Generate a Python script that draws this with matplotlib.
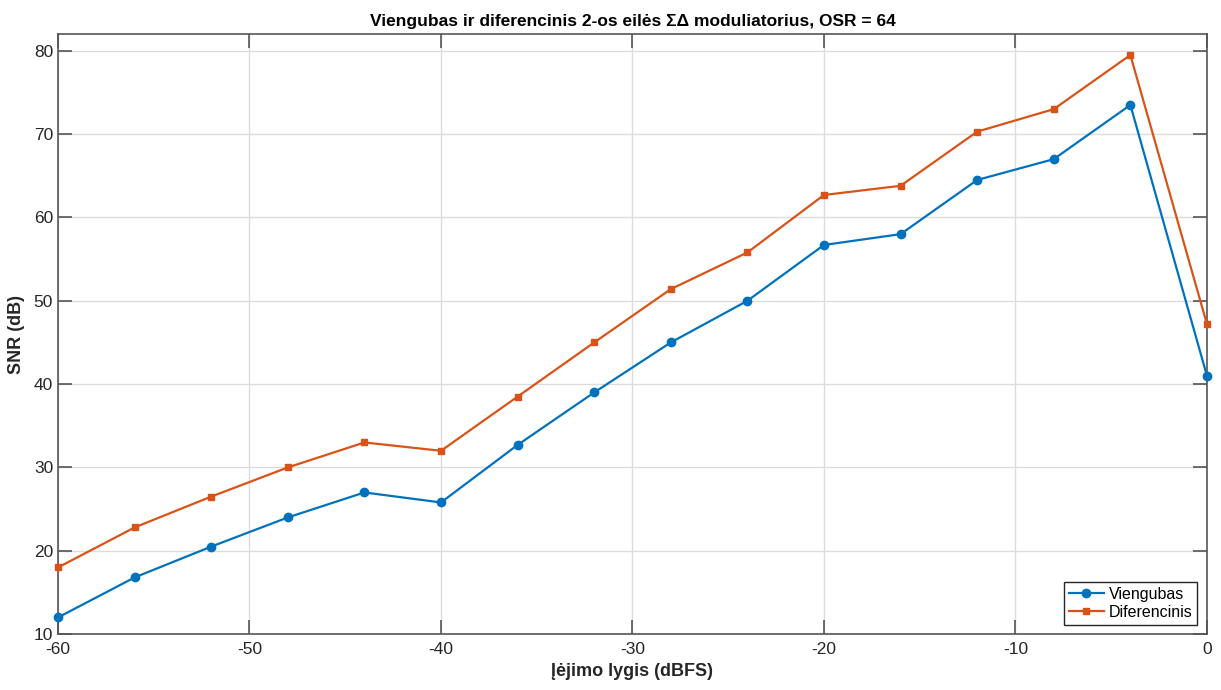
import matplotlib
matplotlib.use('Agg')
import matplotlib.pyplot as plt

plt.rcParams['font.family'] = ['Liberation Sans', 'DejaVu Sans']
plt.rcParams['axes.unicode_minus'] = False

x_dbfs = [-60, -56, -52, -48, -44, -40, -36, -32, -28, -24, -20, -16, -12, -8, -4, 0]
snr_single = [12, 16.8, 20.5, 24, 27, 25.8, 32.7, 39, 45, 50, 56.7, 58, 64.5, 67, 73.5, 41]
snr_diff = [18, 22.8, 26.5, 30, 33, 32, 38.5, 45, 51.4, 55.8, 62.7, 63.8, 70.3, 73, 79.5, 47.2]

fig = plt.figure(figsize=(12.21, 6.9), dpi=100)
ax = fig.add_axes([0.0475, 0.081, 0.941, 0.8695])

ax.plot(x_dbfs, snr_single, color='#0072BD', marker='o', markersize=6, lw=1.6,
        label='Viengubas', clip_on=False, zorder=3)
ax.plot(x_dbfs, snr_diff, color='#D95319', marker='s', markersize=5, lw=1.6,
        label='Diferencinis', clip_on=False, zorder=3)

ax.set_xlim(-60, 0)
ax.set_ylim(10, 82)
ax.set_xticks(range(-60, 1, 10))
ax.set_yticks(range(10, 81, 10))
ax.grid(True, color='#dcdcdc', lw=1)
ax.set_axisbelow(True)

axis_col = '#262626'
for s in ax.spines.values():
    s.set_color('#555555')
    s.set_linewidth(1.2)
ax.tick_params(direction='in', length=10, width=1.2, colors='#555555',
               labelcolor=axis_col, labelsize=12.5, top=True, right=True)
ax.tick_params(axis='x', pad=6)

ax.set_title('Viengubas ir diferencinis 2-os eilės ΣΔ moduliatorius, OSR = 64',
             fontsize=12.5, fontweight='bold', color='black', pad=6)
ax.set_xlabel('Įėjimo lygis (dBFS)', fontsize=13, fontweight='bold', color=axis_col)
ax.set_ylabel('SNR (dB)', fontsize=13, fontweight='bold', color=axis_col, labelpad=6)

leg = ax.legend(loc='lower right', fontsize=11.5, fancybox=False, framealpha=1,
                edgecolor='#262626', borderpad=0.3, handlelength=2.2,
                handletextpad=0.3, labelspacing=0.2, borderaxespad=0.6)
leg.get_frame().set_linewidth(1)

fig.savefig('out.png', dpi=100)
